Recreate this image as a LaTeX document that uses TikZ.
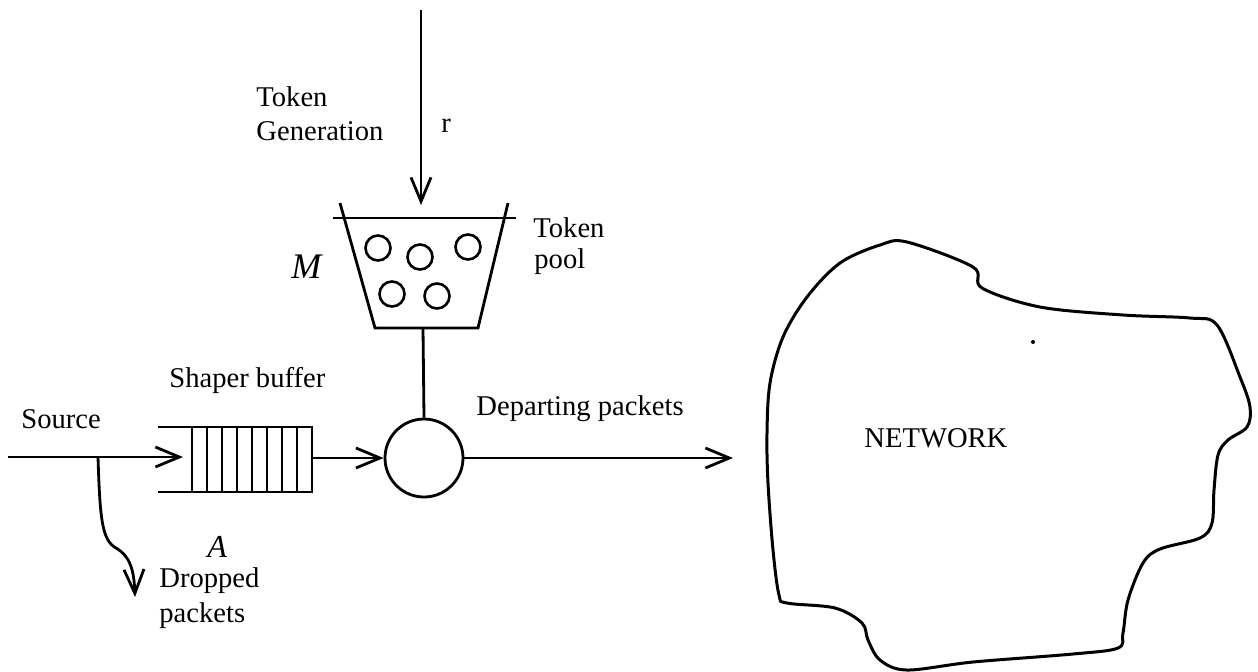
\documentclass[tikz,border=0pt]{standalone}
\usepackage{fontspec}
\setmainfont{Liberation Serif}
\usetikzlibrary{arrows.meta}
\begin{document}
\begin{tikzpicture}[x=0.5pt,y=-0.5pt,line width=1.4pt,
  lbl/.style={inner sep=0pt,anchor=base west,font=\fontsize{14.3}{16}\selectfont},
  barb/.style={-{Straight Barb[length=12pt,width=10pt,line width=1.4pt]}},
  token/.style={draw,circle,minimum size=12.5pt,inner sep=0pt,line width=1.3pt},
  gatestyle/.style={draw,circle,minimum size=39pt,inner sep=0pt}]
\useasboundingbox (0,0) rectangle (1258,671);
% token generation arrow
\coordinate (gen) at (421,10);
\coordinate (bucketT) at (421,205);
\draw[barb] (gen) -- (bucketT);
% bucket
\draw (340,203) -- (375,328) -- (478,328) -- (508,203);
\draw (333,218) -- (516,218);
\coordinate (bucketB) at (423,328);
\node[token] (t1) at (378,248) {};
\node[token] (t2) at (420,257) {};
\node[token] (t3) at (468,247) {};
\node[token] (t4) at (392,294) {};
\node[token] (t5) at (437,296) {};
% gate
\node[gatestyle] (gate) at (424,458) {};
\draw (bucketB) -- (gate.north);
% shaper buffer
\draw (158,427) -- (312,427) -- (312,492) -- (158,492);
\foreach \x in {192,207,222,237,252,267,282,297} \draw (\x,427) -- (\x,492);
\coordinate (src) at (8,457);
\coordinate (bufL) at (183,457);
\coordinate (bufR) at (312,458);
\draw[barb] (src) -- (bufL);
\draw[barb] (bufR) -- (gate.west);
\coordinate (netin) at (733,458);
\draw[barb] (gate.east) -- (netin);
% dropped packets
\coordinate (split) at (98,457);
\coordinate (drop) at (135,597);
\draw[barb] (split) .. controls (100,520) and (102,540) .. (116,548) .. controls (130,556) and (134,570) .. (drop);
% network cloud
\draw[line width=1.5pt] plot[smooth cycle,tension=0.55] coordinates {
 (907,242) (973,267) (982,288) (1040,307) (1123,315) (1190,318) (1217,325)
 (1240,377) (1250,407) (1247,427) (1228,440) (1218,455) (1214,490) (1212,523)
 (1200,538) (1160,549) (1143,563) (1128,600) (1123,633) (1118,648) (1073,654)
 (973,662) (907,670) (880,660) (868,640) (862,623) (835,608) (787,603) (779,595)
 (773,550) (768,483) (767,433) (770,383) (783,337) (807,297) (840,263) (880,245)};
\fill (1033,342) circle[radius=2];
% labels
\node[lbl] (tg1) at (255,106) {Token};
\node[lbl] (tg2) at (255,140) {Generation};
\node[lbl] (rate) at (440,132) {r};
\node[lbl,font=\fontsize{18}{20}\selectfont] (capM) at (290,278) {\textit{M}};
\node[lbl] (tp1) at (532,237) {Token};
\node[lbl] (tp2) at (533,268) {pool};
\node[lbl] (shb) at (168,387) {Shaper buffer};
\node[lbl] (srcl) at (20,428) {Source};
\node[lbl] (dep) at (475,415) {Departing packets};
\node[lbl,font=\fontsize{16}{18}\selectfont] (capA) at (206,557) {\textit{A}};
\node[lbl] (dr1) at (158,587) {Dropped};
\node[lbl] (dr2) at (158,622) {packets};
\node[lbl] (netl) at (863,447) {NETWORK};
\end{tikzpicture}
\end{document}
